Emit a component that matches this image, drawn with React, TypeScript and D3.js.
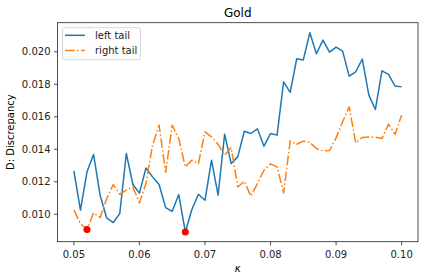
import React from 'react';
import * as d3 from 'd3';

// kappa grid
const kappa = [
  0.05, 0.051, 0.052, 0.053, 0.054, 0.055, 0.056, 0.057, 0.058, 0.059,
  0.06, 0.061, 0.062, 0.063, 0.064, 0.065, 0.066, 0.067, 0.068, 0.069,
  0.07, 0.071, 0.072, 0.073, 0.074, 0.075, 0.076, 0.077, 0.078, 0.079,
  0.08, 0.081, 0.082, 0.083, 0.084, 0.085, 0.086, 0.087, 0.088, 0.089,
  0.09, 0.091, 0.092, 0.093, 0.094, 0.095, 0.096, 0.097, 0.098, 0.099,
  0.1,
];

const leftTail = [
  0.01267, 0.01025, 0.01261, 0.01368, 0.01117, 0.00977, 0.00949, 0.01004, 0.01374, 0.01183,
  0.0113, 0.01285, 0.0123, 0.01183, 0.01041, 0.01018, 0.01121, 0.00891, 0.01029, 0.01123,
  0.01086, 0.01333, 0.01117, 0.01493, 0.01312, 0.01353, 0.01511, 0.01497, 0.01526, 0.01419,
  0.01497, 0.01487, 0.01815, 0.0175, 0.01957, 0.0195, 0.02117, 0.01988, 0.02072, 0.01998,
  0.02029, 0.02004, 0.0185, 0.01877, 0.01955, 0.01733, 0.01645, 0.01883, 0.01861, 0.01789,
  0.01784,
];

const rightTail = [
  0.01025, 0.00943, 0.00906, 0.01008, 0.0098, 0.01097, 0.01183, 0.01123, 0.01148, 0.01168,
  0.0107, 0.01189, 0.01425, 0.01548, 0.01257, 0.01548, 0.01466, 0.01291, 0.01333, 0.01312,
  0.01507, 0.01476, 0.01431, 0.01364, 0.01411, 0.01168, 0.01203, 0.01111, 0.01189, 0.01271,
  0.0131, 0.01291, 0.01131, 0.01452, 0.01431, 0.0145, 0.01442, 0.01405, 0.0139, 0.01392,
  0.0147, 0.01569, 0.01661, 0.01439, 0.01473, 0.01476, 0.01474, 0.01466, 0.01555, 0.01491,
  0.0161,
];

const xTicks = [0.05, 0.06, 0.07, 0.08, 0.09, 0.1];
const yTicks = [0.01, 0.012, 0.014, 0.016, 0.018, 0.02];

const series = [
  { name: 'left tail', values: leftTail, color: '#1f77b4', dash: undefined },
  { name: 'right tail', values: rightTail, color: '#ff7f0e', dash: '9.6,2.4,1.5,2.4' },
];

const W = 424;
const H = 280;
const left = 57.5, right = 418, top = 22.7, bottom = 241.7;
const font = 'DejaVu Sans, sans-serif';

export default function App() {
  const x = d3.scaleLinear().domain([0.0475, 0.1025]).range([left, right]);
  const y = d3.scaleLinear().domain([0.00831, 0.02179]).range([bottom, top]);

  const line = d3.line<number>()
    .x((_, i) => x(kappa[i]))
    .y(d => y(d));

  // minimum of each series gets a red dot
  const minima = series.map(s => {
    const i = d3.minIndex(s.values);
    return { k: kappa[i], v: s.values[i] };
  });

  return (
    <svg width={W} height={H} style={{ position: 'absolute', left: 0, top: 0, background: '#fff' }}
      fontFamily={font}>
      <text x={(left + right) / 2} y={16.5} textAnchor="middle" fontSize={12}>Gold</text>

      {series.map(s => (
        <path key={s.name} d={line(s.values) || ''} fill="none" stroke={s.color}
          strokeWidth={1.5} strokeDasharray={s.dash} strokeLinejoin="round" />
      ))}

      {minima.map((m, i) => (
        <circle key={i} cx={x(m.k)} cy={y(m.v)} r={3.5} fill="red" />
      ))}

      <rect x={left} y={top} width={right - left} height={bottom - top}
        fill="none" stroke="#222" strokeWidth={0.8} />

      {xTicks.map(t => (
        <g key={t} transform={`translate(${x(t)},${bottom})`}>
          <line y2={3.5} stroke="#222" strokeWidth={0.8} />
          <text y={16.5} textAnchor="middle" fontSize={10} fill="#222">{t.toFixed(2)}</text>
        </g>
      ))}
      {yTicks.map(t => (
        <g key={t} transform={`translate(${left},${y(t)})`}>
          <line x2={-3.5} stroke="#222" strokeWidth={0.8} />
          <text x={-7} dy="0.35em" textAnchor="end" fontSize={10} fill="#222">{t.toFixed(3)}</text>
        </g>
      ))}

      <text x={(left + right) / 2} y={272} textAnchor="middle" fontSize={10} fontStyle="italic">κ</text>
      <text transform={`translate(14,${(top + bottom) / 2}) rotate(-90)`} textAnchor="middle"
        fontSize={10}>D: Discrepancy</text>

      <g>
        <rect x={62.5} y={27.7} width={78} height={32} rx={2} fill="#fff" fillOpacity={0.8}
          stroke="#ccc" strokeWidth={0.8} />
        {series.map((s, i) => (
          <g key={s.name} transform={`translate(65,${35.3 + i * 15.2})`}>
            <line x1={0} x2={20} stroke={s.color} strokeWidth={1.5} strokeDasharray={s.dash} />
            <text x={30} dy="0.35em" fontSize={10} fill="#222">{s.name}</text>
          </g>
        ))}
      </g>
    </svg>
  );
}
